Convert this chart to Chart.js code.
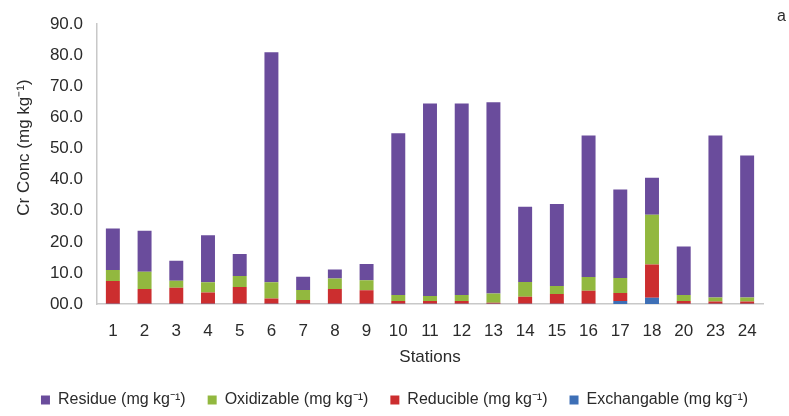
<!DOCTYPE html>
<html>
<head>
<meta charset="utf-8">
<script src="https://cdn.jsdelivr.net/npm/chart.js@4/dist/chart.umd.min.js"></script>
<style>
  html, body { margin: 0; padding: 0; background: #fff; }
  #wrap { width: 789px; height: 416px; position: relative; }
</style>
</head>
<body>
<div id="wrap"><canvas id="c"></canvas></div>
<script>
// Chromium fractions of Cr per sampling station (mg kg-1)
const stations = ['1','2','3','4','5','6','7','8','9','10','11','12','13','14','15','16','17','18','20','23','24'];
const exchangable = [0.1,0.1,0.1,0.1,0.1,0.1,0.1,0.1,0.1,0.1,0.1,0.1,0.1,0.1,0.1,0.1,1.0,2.0,0.1,0.1,0.1];
const reducible   = [7.3,4.7,5.1,3.6,5.4,1.7,1.2,4.7,4.3,0.9,0.9,0.9,0.3,2.2,3.1,4.2,2.5,10.7,0.9,0.7,0.7];
const oxidizable  = [3.5,5.6,2.3,3.3,3.5,5.2,3.2,3.4,3.2,1.9,1.6,1.9,3.0,4.8,2.6,4.4,4.9,16.0,1.9,1.3,1.3];
const residue     = [13.4,13.2,6.4,15.1,7.1,74.0,4.3,2.9,5.3,52.0,61.9,61.6,61.5,24.2,26.4,45.5,28.4,11.9,15.6,52.1,45.7];
const yTickLabels = ['00.0','10.0','20.0','30.0','40.0','50.0','60.0','70.0','80.0','90.0'];

const FONT = "'Liberation Sans', Arial, sans-serif";
const TEXT = '#2b2b2b';

// panel letter in the top right corner
const panelLetter = {
  id: 'panelLetter',
  afterDraw(chart) {
    const ctx = chart.ctx;
    ctx.save();
    ctx.fillStyle = TEXT;
    ctx.font = '16px ' + FONT;
    ctx.textAlign = 'left';
    ctx.textBaseline = 'middle';
    ctx.fillText('a', 777, 17);
    ctx.restore();
  }
};

new Chart(document.getElementById('c'), {
  type: 'bar',
  data: {
    labels: stations,
    datasets: [
      { label: 'Exchangable (mg kg⁻¹)', data: exchangable, backgroundColor: '#3d6fb6' },
      { label: 'Reducible (mg kg⁻¹)',   data: reducible,   backgroundColor: '#cc2e2f' },
      { label: 'Oxidizable (mg kg⁻¹)',  data: oxidizable,  backgroundColor: '#92b83f' },
      { label: 'Residue (mg kg⁻¹)',     data: residue,     backgroundColor: '#6a4c9c' }
    ]
  },
  options: {
    responsive: true,
    maintainAspectRatio: false,
    animation: false,
    datasets: { bar: { barPercentage: 0.44, categoryPercentage: 1.0 } },
    layout: { padding: { top: 13, right: 13, bottom: -2, left: 13 } },
    plugins: {
      tooltip: { enabled: false },
      legend: {
        position: 'bottom',
        reverse: true,
        labels: {
          color: TEXT,
          font: { family: FONT, size: 16 },
          boxWidth: 9,
          boxHeight: 9,
          padding: 22
        }
      }
    },
    scales: {
      x: {
        stacked: true,
        afterFit(scale) { scale.height = 66; },
        grid: { display: false, drawTicks: false },
        border: { display: true, color: '#c8c8c8', width: 1.5 },
        ticks: { color: TEXT, font: { family: FONT, size: 17 }, padding: 17, maxRotation: 0, autoSkip: false },
        title: { display: true, text: 'Stations', color: TEXT, font: { family: FONT, size: 17 }, padding: { top: 0, bottom: 2 } }
      },
      y: {
        stacked: true,
        min: 0,
        max: 90,
        afterFit(scale) { scale.width = 84; },
        grid: { display: false, drawTicks: false },
        border: { display: true, color: '#c8c8c8', width: 1.5 },
        ticks: {
          stepSize: 10,
          autoSkip: false,
          color: TEXT,
          font: { family: FONT, size: 17 },
          padding: 14,
          callback: (v, i) => yTickLabels[i]
        },
        title: { display: true, text: '       Cr Conc (mg kg⁻¹)', color: TEXT, font: { family: FONT, size: 17 }, padding: { top: 1, bottom: 0 } }
      },
      // empty right-hand gutter so the plot ends short of the canvas edge
      gutter: {
        type: 'linear',
        position: 'right',
        display: true,
        afterFit(scale) { scale.width = 13; },
        grid: { display: false, drawTicks: false },
        border: { display: false },
        ticks: { display: false }
      }
    }
  },
  plugins: [panelLetter]
});
</script>
</body>
</html>
